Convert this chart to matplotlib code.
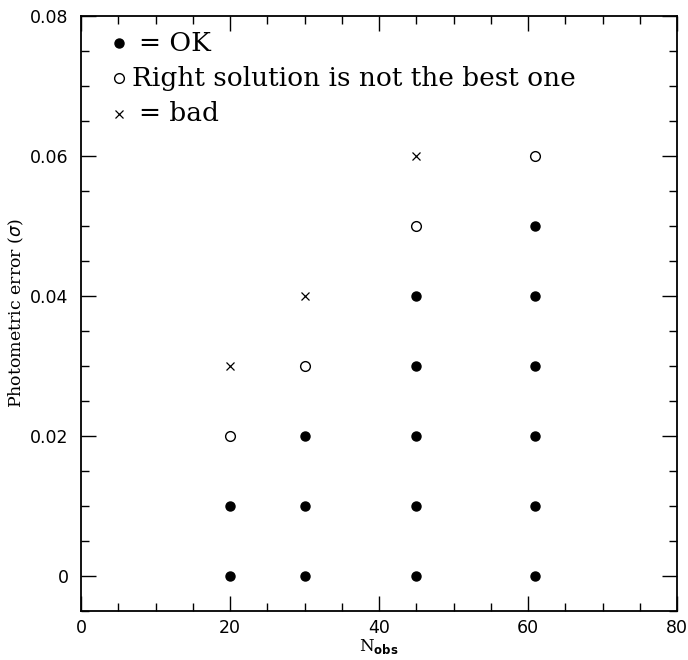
import matplotlib
matplotlib.use("Agg")
import matplotlib.pyplot as plt
from matplotlib.ticker import MultipleLocator

# N_obs and photometric error for each outcome
ok_n = [20, 20, 30, 30, 30, 45, 45, 45, 45, 45, 61, 61, 61, 61, 61, 61]
ok_sig = [0.0, 0.01, 0.0, 0.01, 0.02, 0.0, 0.01, 0.02, 0.03, 0.04,
          0.0, 0.01, 0.02, 0.03, 0.04, 0.05]
notbest_n = [20, 30, 45, 61]
notbest_sig = [0.02, 0.03, 0.05, 0.06]
bad_n = [20, 30, 45]
bad_sig = [0.03, 0.04, 0.06]

legend_labels = ["= OK", "Right solution is not the best one", "= bad"]

fig = plt.figure(figsize=(6.88, 6.60), dpi=100)
ax = fig.add_axes([81 / 688, 49 / 660, 596 / 688, 595 / 660])

ax.plot(ok_n, ok_sig, "o", color="black", markersize=6.5, linestyle="none")
ax.plot(notbest_n, notbest_sig, "o", markerfacecolor="white", markeredgecolor="black",
        markeredgewidth=1.0, markersize=7, linestyle="none")
ax.plot(bad_n, bad_sig, "x", color="black", markersize=5.5, markeredgewidth=0.9,
        linestyle="none")

# legend drawn by hand, like the original
ax.plot([0.064], [0.954], "o", color="black", markersize=6.5, transform=ax.transAxes)
ax.plot([0.064], [0.895], "o", markerfacecolor="white", markeredgecolor="black",
        markersize=7, transform=ax.transAxes)
ax.plot([0.064], [0.836], "x", color="black", markersize=5.5, markeredgewidth=0.9,
        transform=ax.transAxes)
ax.text(0.098, 0.954, legend_labels[0], transform=ax.transAxes, fontsize=19,
        family="DejaVu Serif", va="center")
ax.text(0.086, 0.895, legend_labels[1], transform=ax.transAxes, fontsize=19,
        family="DejaVu Serif", va="center")
ax.text(0.098, 0.836, legend_labels[2], transform=ax.transAxes, fontsize=19,
        family="DejaVu Serif", va="center")

ax.set_xlim(0, 80)
ax.set_ylim(-0.005, 0.08)
ax.xaxis.set_major_locator(MultipleLocator(20))
ax.xaxis.set_minor_locator(MultipleLocator(5))
ax.yaxis.set_minor_locator(MultipleLocator(0.005))
ax.set_yticks([0, 0.02, 0.04, 0.06, 0.08])
ax.set_yticklabels(["0", "0.02", "0.04", "0.06", "0.08"])
ax.tick_params(which="both", direction="in", top=True, right=True, labelsize=12.5,
               width=1.0)
ax.tick_params(axis="y", pad=9)
ax.tick_params(axis="x", pad=6)
ax.tick_params(which="major", length=11)
ax.tick_params(which="minor", length=6)
for s in ax.spines.values():
    s.set_linewidth(1.3)

fig.text(379 / 688, 1 - 647 / 660, r"N$_{\mathbf{obs}}$", fontsize=12,
         family="DejaVu Serif", ha="center", va="center")
ax.set_ylabel(r"Photometric error ($\sigma$)", fontsize=12.5, family="DejaVu Serif")
ax.yaxis.set_label_coords(-(81 - 26) / 596, 0.5)

fig.savefig("out.png", dpi=100)
